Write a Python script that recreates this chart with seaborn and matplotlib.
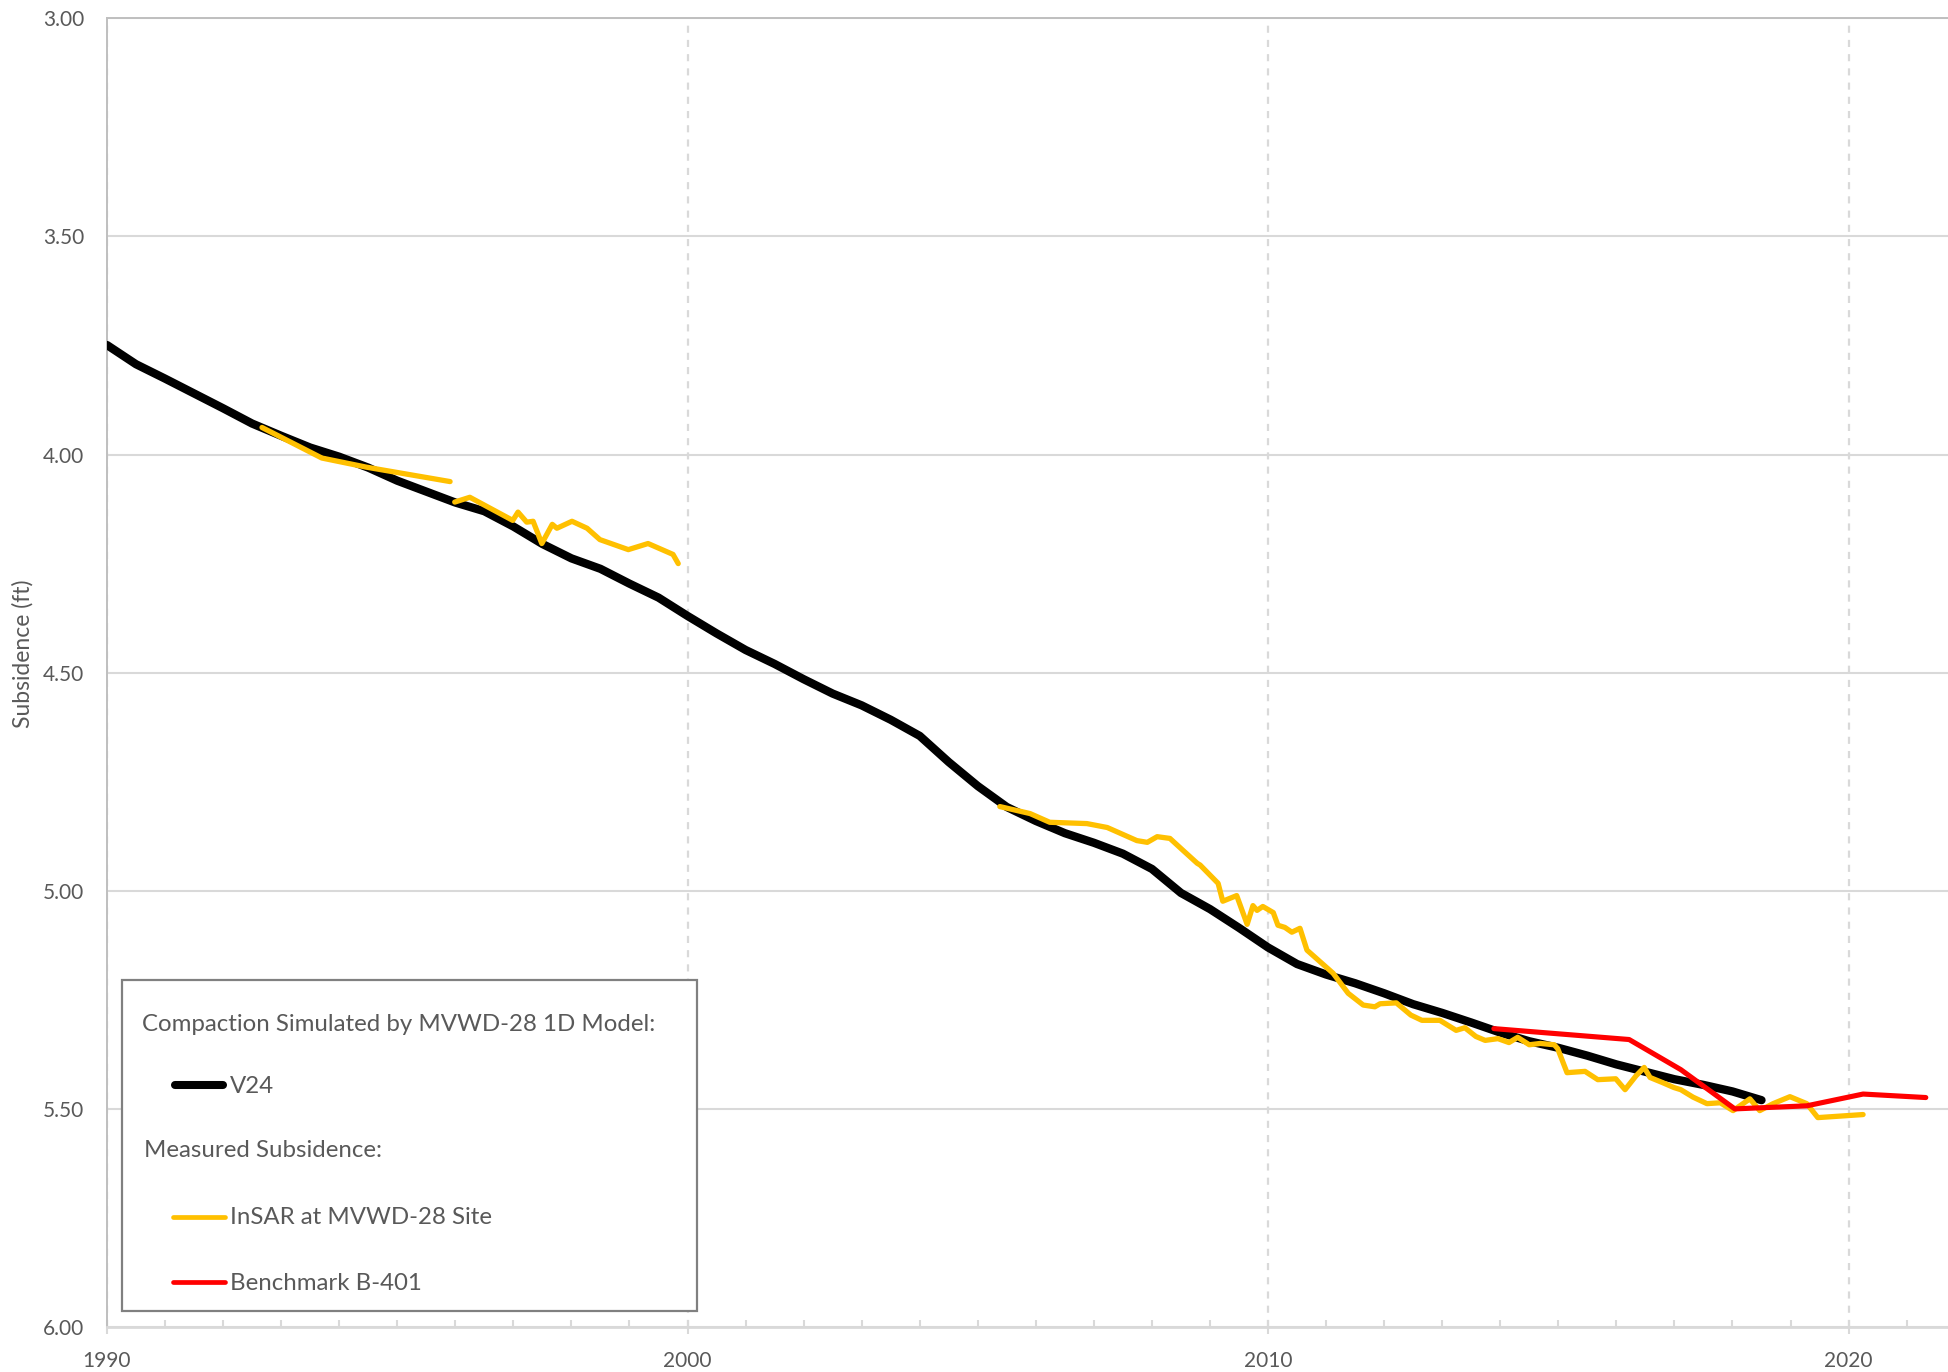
import numpy as np
import pandas as pd
import seaborn as sns
import matplotlib.pyplot as plt
from matplotlib.lines import Line2D
from matplotlib.patches import Rectangle
from matplotlib.ticker import FixedLocator, MultipleLocator, FuncFormatter

# ---------------------------------------------------------------------------
# Data
# ---------------------------------------------------------------------------
# Compaction simulated by the MVWD-28 1D model (V24)
model_year = [1990.0, 1990.5, 1991.0, 1991.5, 1992.0, 1992.5, 1993.0, 1993.5,
              1994.0, 1994.5, 1995.0, 1995.5, 1996.0, 1996.5, 1997.0, 1997.5,
              1998.0, 1998.5, 1999.0, 1999.5, 2000.0, 2000.5, 2001.0, 2001.5,
              2002.0, 2002.5, 2003.0, 2003.5, 2004.0, 2004.5, 2005.0, 2005.5,
              2006.0, 2006.5, 2007.0, 2007.5, 2008.0, 2008.5, 2009.0, 2009.5,
              2010.0, 2010.5, 2011.0, 2011.5, 2012.0, 2012.5, 2013.0, 2013.5,
              2014.0, 2014.5, 2015.0, 2015.5, 2016.0, 2016.5, 2017.0, 2017.5,
              2018.0, 2018.5]
model_ft = [3.749, 3.793, 3.826, 3.860, 3.894, 3.929, 3.957, 3.984,
            4.005, 4.030, 4.060, 4.085, 4.110, 4.130, 4.165, 4.205,
            4.238, 4.262, 4.296, 4.328, 4.370, 4.410, 4.448, 4.480,
            4.515, 4.548, 4.575, 4.608, 4.645, 4.705, 4.760, 4.808,
            4.840, 4.868, 4.890, 4.915, 4.950, 5.005, 5.042, 5.085,
            5.130, 5.168, 5.192, 5.212, 5.235, 5.260, 5.280, 5.302,
            5.325, 5.345, 5.360, 5.378, 5.398, 5.415, 5.432, 5.445,
            5.460, 5.480]

# InSAR at the MVWD-28 site (three separate acquisition periods)
insar_year_a = [1992.67, 1993.70, 1994.47, 1995.91]
insar_ft_a = [3.938, 4.008, 4.029, 4.062]

insar_year_b = [1995.99, 1996.25, 1996.99, 1997.08, 1997.23, 1997.34, 1997.49,
                1997.67, 1997.75, 1998.01, 1998.27, 1998.49, 1998.98, 1999.32,
                1999.75, 1999.84]
insar_ft_b = [4.109, 4.098, 4.151, 4.132, 4.155, 4.153, 4.204,
              4.160, 4.169, 4.153, 4.169, 4.195, 4.218, 4.204,
              4.229, 4.250]

insar_year_c = [2005.38, 2005.90, 2006.24, 2006.88, 2007.23, 2007.74, 2007.92,
                2008.09, 2008.31, 2008.54, 2008.78, 2008.83, 2009.14, 2009.22,
                2009.46, 2009.64, 2009.74, 2009.81, 2009.91, 2010.09, 2010.17,
                2010.29, 2010.41, 2010.55, 2010.67, 2011.12, 2011.38, 2011.64,
                2011.84, 2011.93, 2012.21, 2012.46, 2012.65, 2012.96, 2013.24,
                2013.39, 2013.58, 2013.74, 2013.96, 2014.15, 2014.30, 2014.50,
                2014.69, 2014.93, 2014.99, 2015.15, 2015.46, 2015.68, 2015.99,
                2016.15, 2016.34, 2016.48, 2016.58, 2016.80, 2016.99, 2017.11,
                2017.32, 2017.56, 2017.79, 2018.01, 2018.30, 2018.47, 2018.70,
                2018.99, 2019.28, 2019.47, 2020.25]
insar_ft_c = [4.807, 4.823, 4.843, 4.846, 4.855, 4.885, 4.889,
              4.876, 4.880, 4.908, 4.937, 4.941, 4.983, 5.024,
              5.011, 5.077, 5.034, 5.045, 5.036, 5.050, 5.079,
              5.084, 5.095, 5.086, 5.136, 5.189, 5.235, 5.262,
              5.266, 5.259, 5.257, 5.285, 5.297, 5.297, 5.320,
              5.314, 5.334, 5.343, 5.339, 5.348, 5.336, 5.353,
              5.350, 5.353, 5.362, 5.417, 5.414, 5.433, 5.431,
              5.456, 5.424, 5.405, 5.428, 5.440, 5.451, 5.456,
              5.473, 5.488, 5.486, 5.504, 5.477, 5.504, 5.488,
              5.472, 5.488, 5.520, 5.513]

# Benchmark B-401 leveling surveys
bench_year = [2013.89, 2016.22, 2017.11, 2018.04, 2019.28, 2020.25, 2021.33]
bench_ft = [5.316, 5.341, 5.410, 5.500, 5.493, 5.466, 5.474]

x_major = [1990, 2000, 2010, 2020]
y_ticks = [3.0, 3.5, 4.0, 4.5, 5.0, 5.5, 6.0]

insar = pd.DataFrame({
    "year": insar_year_a + insar_year_b + insar_year_c,
    "ft": insar_ft_a + insar_ft_b + insar_ft_c,
    "period": ["a"] * len(insar_year_a) + ["b"] * len(insar_year_b)
              + ["c"] * len(insar_year_c),
})
model = pd.DataFrame({"year": model_year, "ft": model_ft})
bench = pd.DataFrame({"year": bench_year, "ft": bench_ft})

# ---------------------------------------------------------------------------
# Figure
# ---------------------------------------------------------------------------
sns.set_theme(style="white")
plt.rcParams["font.family"] = ["Lato", "DejaVu Sans"]

W, H, DPI = 1949, 1372, 100
fig = plt.figure(figsize=(W / DPI, H / DPI), dpi=DPI)
fig.patch.set_facecolor("white")
ax = fig.add_axes([107 / W, 45 / H, 1842 / W, 1308.7 / H])

GOLD = "#FFC000"
RED = "#FF0000"
TXT = "#595959"
GRID = "#D9D9D9"

line_kw = dict(solid_capstyle="round", solid_joinstyle="round")
sns.lineplot(data=model, x="year", y="ft", color="black", linewidth=6.0,
             sort=False, estimator=None, ax=ax, zorder=3, legend=False, **line_kw)
sns.lineplot(data=insar, x="year", y="ft", units="period", color=GOLD,
             linewidth=3.8, sort=False, estimator=None, ax=ax, zorder=4,
             legend=False, **line_kw)
sns.lineplot(data=bench, x="year", y="ft", color=RED, linewidth=3.7,
             sort=False, estimator=None, ax=ax, zorder=5, legend=False, **line_kw)

ax.set_xlabel("")
ax.set_ylabel("")
ax.set_xlim(1990, 2021.73)
ax.set_ylim(6.0, 3.0)

ax.xaxis.set_major_locator(FixedLocator(x_major))
ax.xaxis.set_minor_locator(MultipleLocator(1))
ax.xaxis.set_major_formatter(FuncFormatter(lambda v, p: f"{int(round(v))}"))
ax.yaxis.set_major_locator(FixedLocator(y_ticks))
ax.yaxis.set_major_formatter(FuncFormatter(lambda v, p: f"{v:.2f}"))

ax.yaxis.grid(True, color=GRID, linewidth=1.5, linestyle="-", zorder=0)
ax.xaxis.grid(True, which="major", color=GRID, linewidth=1.6,
              linestyle=(0, (3.2, 3.2)), zorder=0)
ax.set_axisbelow(True)

for side in ("top", "left"):
    ax.spines[side].set_color("#BFBFBF")
    ax.spines[side].set_linewidth(1.4)
ax.spines["bottom"].set_color(GRID)
ax.spines["bottom"].set_linewidth(2.0)
ax.spines["right"].set_visible(False)

ax.tick_params(axis="y", left=False, length=0, pad=16.5, labelsize=15,
               labelcolor=TXT)
ax.tick_params(axis="x", which="major", bottom=True, direction="inout",
               length=10, width=1.5, color=GRID, pad=12, labelsize=15,
               labelcolor=TXT)
ax.tick_params(axis="x", which="minor", bottom=True, direction="in",
               length=5, width=1.5, color=GRID)

fig.text(23 / W, 1 - 654 / H, "Subsidence (ft)", rotation=90, ha="center",
         va="center", fontsize=16.5, color=TXT)

# ---------------------------------------------------------------------------
# Legend box (grouped entries with headings)
# ---------------------------------------------------------------------------
def fx(x):
    return x / W


def fy(y):
    return 1 - y / H


fig.add_artist(Rectangle((fx(122), fy(1311)), fx(697) - fx(122),
                         fy(980) - fy(1311), transform=fig.transFigure,
                         facecolor="white", edgecolor="#808080",
                         linewidth=1.6, zorder=10))

LEG_FS = 17.3
fig.text(fx(142), fy(1031), "Compaction Simulated by MVWD-28 1D Model:",
         ha="left", va="baseline", fontsize=LEG_FS, color=TXT, zorder=11)
fig.text(fx(144), fy(1157), "Measured Subsidence:", ha="left",
         va="baseline", fontsize=LEG_FS, color=TXT, zorder=11)

entries = [
    ("V24", "black", 5.8, 1085, 1093),
    ("InSAR at MVWD-28 Site", GOLD, 3.4, 1217, 1224),
    ("Benchmark B-401", RED, 3.4, 1282, 1290),
]
for label, col, lw, y_line, y_base in entries:
    half = lw * DPI / 72 / 2
    fig.add_artist(Line2D([fx(171 + half), fx(227 - half)],
                          [fy(y_line), fy(y_line)], transform=fig.transFigure,
                          color=col, linewidth=lw, solid_capstyle="round",
                          zorder=11))
    fig.text(fx(230), fy(y_base), label, ha="left", va="baseline",
             fontsize=LEG_FS, color=TXT, zorder=11)

fig.savefig("out.png", dpi=DPI, facecolor="white")
